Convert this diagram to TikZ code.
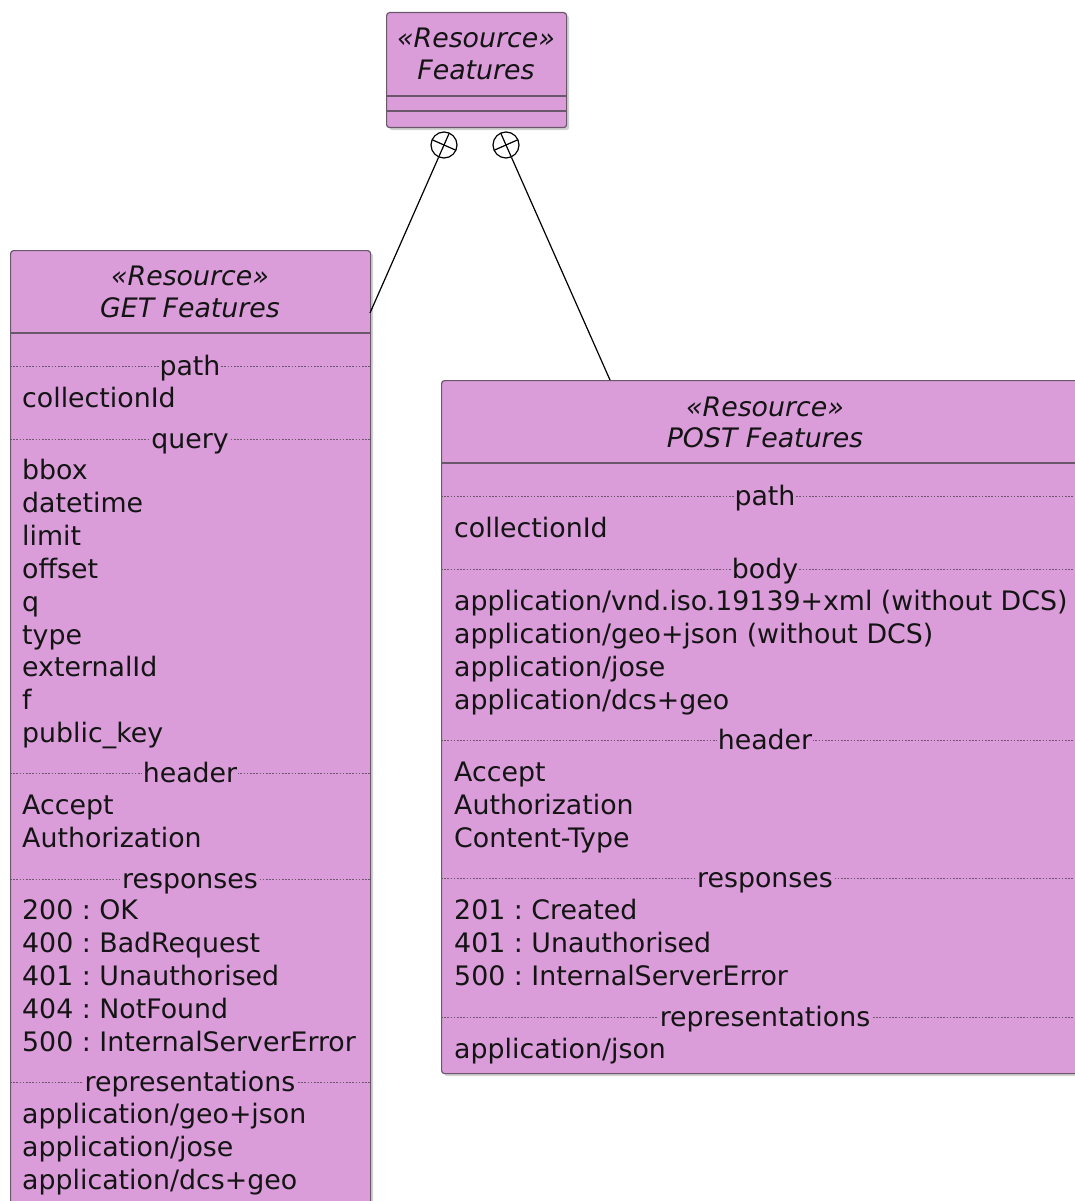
\documentclass[tikz,border=0pt]{standalone}
\usepackage{fontspec}
\usetikzlibrary{calc}
\newfontfamily\dvsans{DejaVu Sans}
\definecolor{resfill}{HTML}{DA9DDA}
\definecolor{resline}{HTML}{6A586A}
\definecolor{txt}{HTML}{141414}
\newcommand\itemfont{\dvsans\frenchspacing\fontsize{26.8}{33}\selectfont}
\newcommand\titlefont{\dvsans\itshape\fontsize{26.8}{33}\selectfont}
\tikzset{
  resbox/.style={draw=resline, fill=resfill, line width=1.2pt, rounded corners=3pt,
    anchor=north west, inner sep=0pt},
  shadowbox/.style={fill=black, opacity=0.18, rounded corners=3pt, anchor=north west, inner sep=0pt},
  titleline/.style={font=\titlefont, text=txt, anchor=base, inner sep=0pt},
  item/.style={font=\itemfont, text=txt, anchor=base west, inner sep=0pt},
  sect/.style={font=\itemfont, text=txt, anchor=base, fill=resfill, inner xsep=1pt, inner ysep=0pt},
  solidsep/.style={draw=resline, line width=1.2pt},
  dashsep/.style={draw=resline, line width=0.9pt, dash pattern=on 1.6pt off 1.6pt},
  nest/.style={circle, draw=black, line width=1.2pt, minimum size=26pt, inner sep=0pt, fill=white},
  link/.style={draw=black, line width=1.2pt},
}
\begin{document}
\begin{tikzpicture}[x=1pt, y=-1pt]
\useasboundingbox (0,0) rectangle (1075,1201);
\clip (0,0) rectangle (1075,1201);

% shadows
\node[shadowbox, minimum width=180pt, minimum height=115pt] at (389,15) {};
\node[shadowbox, minimum width=360pt, minimum height=990pt] at (13,253) {};
\node[shadowbox, minimum width=648pt, minimum height=693pt] at (444,383) {};

% ---- Features ----
\node[resbox, minimum width=180pt, minimum height=115pt] (feat) at (386,12) {};
\node[titleline] (featst) at (476,48) {«Resource»};
\node[titleline] (featnm) at (476,80) {Features};
\draw[solidsep] (386,96) -- (566,96);
\draw[solidsep] (386,111) -- (566,111);

% ---- GET Features ----
\node[resbox, minimum width=360pt, minimum height=990pt] (getbox) at (10,250) {};
\node[titleline] (getst) at (190,285) {«Resource»};
\node[titleline] (getnm) at (190,317) {GET Features};
\draw[solidsep] (10,333) -- (370,333);

\foreach \y/\lab/\nm in {366/path/gpath, 439/query/gquery, 773/header/gheader,
    879/responses/gresp, 1082/representations/grepr}{
  \draw[dashsep] (10,\y) -- (370,\y);
  \node[sect] (\nm) at (190,\y+9) {\lab};
}
\node[item] (g1) at (22,407) {collectionId};
\node[item] (g2) at (22,479) {bbox};
\node[item] (g3) at (22,512) {datetime};
\node[item] (g4) at (22,545) {limit};
\node[item] (g5) at (22,578) {offset};
\node[item] (g6) at (22,611) {q};
\node[item] (g7) at (22,644) {type};
\node[item] (g8) at (22,676) {externalId};
\node[item] (g9) at (22,709) {f};
\node[item] (g10) at (22,742) {public\_key};
\node[item] (g11) at (22,814) {Accept};
\node[item] (g12) at (22,847) {Authorization};
\node[item] (g13) at (22,919) {200 : OK};
\node[item] (g14) at (22,952) {400 : BadRequest};
\node[item] (g15) at (22,985) {401 : Unauthorised};
\node[item] (g16) at (22,1018) {404 : NotFound};
\node[item] (g17) at (22,1051) {500 : InternalServerError};
\node[item] (g18) at (22,1123) {application/geo+json};
\node[item] (g19) at (22,1156) {application/jose};
\node[item] (g20) at (22,1189) {application/dcs+geo};

% ---- POST Features ----
\node[resbox, minimum width=648pt, minimum height=693pt] (postbox) at (441,380) {};
\node[titleline] (postst) at (765,416) {«Resource»};
\node[titleline] (postnm) at (765,447) {POST Features};
\draw[solidsep] (441,463) -- (1089,463);

\foreach \y/\lab/\nm in {496/path/ppath, 569/body/pbody, 740/header/pheader,
    878/responses/presp, 1017/representations/prepr}{
  \draw[dashsep] (441,\y) -- (1089,\y);
  \node[sect] (\nm) at (765,\y+9) {\lab};
}
\node[item] (p1) at (454,537) {collectionId};
\node[item] (p2) at (454,610) {application/vnd.iso.19139+xml (without DCS)};
\node[item] (p3) at (454,643) {application/geo+json (without DCS)};
\node[item] (p4) at (454,676) {application/jose};
\node[item] (p5) at (454,709) {application/dcs+geo};
\node[item] (p6) at (454,781) {Accept};
\node[item] (p7) at (454,814) {Authorization};
\node[item] (p8) at (454,847) {Content-Type};
\node[item] (p9) at (454,919) {201 : Created};
\node[item] (p10) at (454,952) {401 : Unauthorised};
\node[item] (p11) at (454,985) {500 : InternalServerError};
\node[item] (p12) at (454,1058) {application/json};

% ---- nesting connectors ----
\node[nest] (c1) at (444,145) {};
\node[nest] (c2) at (506,145) {};
\coordinate (getend) at (370,313);
\coordinate (postend) at (610,380);
\draw[link] (c1) -- (getend);
\draw[link] (c2) -- (postend);
\foreach \c/\e in {c1/getend, c2/postend}{
  \draw[link] ($(\c)!13pt!(\e)$) -- ($(\c)!-13pt!(\e)$);
  \draw[link] ($(\c)!13pt!90:(\e)$) -- ($(\c)!13pt!-90:(\e)$);
}
\end{tikzpicture}
\end{document}
